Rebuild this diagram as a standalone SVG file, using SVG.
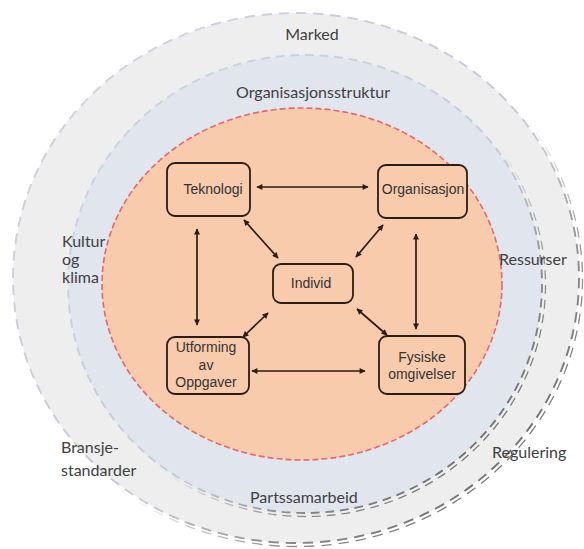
<svg xmlns="http://www.w3.org/2000/svg" width="584" height="549" viewBox="0 0 584 549">
  <defs>
    <linearGradient id="ringStroke" x1="0" y1="0" x2="1" y2="1">
      <stop offset="0" stop-color="#cfd4df"/>
      <stop offset="0.6" stop-color="#c3c8d4"/>
      <stop offset="0.74" stop-color="#8a8a8a"/>
      <stop offset="1" stop-color="#555555"/>
    </linearGradient>
    <linearGradient id="ringShadow" x1="0" y1="0" x2="1" y2="1">
      <stop offset="0" stop-color="#9a9a9a" stop-opacity="0"/>
      <stop offset="0.55" stop-color="#9a9a9a" stop-opacity="0"/>
      <stop offset="0.72" stop-color="#8a8a8a" stop-opacity="0.9"/>
      <stop offset="1" stop-color="#555555" stop-opacity="1"/>
    </linearGradient>
    <marker id="head" viewBox="0 0 10 10" refX="9" refY="5" markerWidth="7" markerHeight="6" markerUnits="userSpaceOnUse" orient="auto-start-reverse">
      <path d="M0,0 L10,5 L0,10 z" fill="#2b1d16"/>
    </marker>
    <style>
      .ring-line { fill: none; stroke: url(#ringStroke); stroke-width: 1.9; stroke-dasharray: 6 4; }
      .ring-shadow { fill: none; stroke: url(#ringShadow); stroke-width: 1.3; stroke-dasharray: 6 4; }
      .core { fill: #f8cbad; stroke: #e2686b; stroke-width: 1.6; stroke-dasharray: 6 3; }
      .box { fill: #f8cbad; stroke: #2b1d16; stroke-width: 1.8; }
      .box-text { font-family: "Liberation Sans", Arial, sans-serif; font-size: 14px; fill: #333333; text-anchor: middle; }
      .ring-text { font-family: "Lato", "Liberation Sans", sans-serif; font-size: 16px; fill: #404040; }
      .link { stroke: #2b1d16; stroke-width: 1.7; fill: none; marker-start: url(#head); marker-end: url(#head); }
    </style>
  </defs>

  <!-- outer ring: market / regulation -->
  <g id="ring-outer">
    <ellipse cx="296" cy="278" rx="283" ry="265" fill="#eeeeee"/>
    <ellipse class="ring-line" cx="296" cy="278" rx="283" ry="265" pathLength="1000"/>
    <ellipse class="ring-shadow" cx="297" cy="279" rx="285.5" ry="267.5" pathLength="1000"/>
  </g>

  <!-- middle ring: organisational structure -->
  <g id="ring-middle">
    <ellipse cx="305" cy="284" rx="237" ry="229" fill="#e1e5ee"/>
    <ellipse class="ring-line" cx="305" cy="284" rx="237" ry="229" pathLength="1000"/>
    <ellipse class="ring-shadow" cx="306" cy="285" rx="239.5" ry="231.5" pathLength="1000"/>
  </g>

  <!-- inner core -->
  <g id="core">
    <ellipse class="core" cx="302" cy="284" rx="200" ry="176"/>
  </g>

  <!-- ring labels -->
  <g id="labels">
    <text class="ring-text" x="312" y="40" text-anchor="middle">Marked</text>
    <text class="ring-text" x="313" y="98" text-anchor="middle">Organisasjonsstruktur</text>
    <text class="ring-text" x="62" y="247">Kultur</text>
    <text class="ring-text" x="62" y="265">og</text>
    <text class="ring-text" x="62" y="283">klima</text>
    <text class="ring-text" x="499" y="265">Ressurser</text>
    <text class="ring-text" x="61" y="453">Bransje-</text>
    <text class="ring-text" x="61" y="476">standarder</text>
    <text class="ring-text" x="492" y="458">Regulering</text>
    <text class="ring-text" x="250" y="503">Partssamarbeid</text>
  </g>

  <!-- connectors -->
  <g id="connectors">
    <line class="link" x1="257" y1="187" x2="368" y2="187"/>
    <line class="link" x1="244" y1="220" x2="278" y2="258"/>
    <line class="link" x1="383" y1="225" x2="356" y2="257"/>
    <line class="link" x1="197" y1="229" x2="197" y2="325"/>
    <line class="link" x1="416" y1="234" x2="416" y2="329"/>
    <line class="link" x1="243" y1="337" x2="268" y2="313"/>
    <line class="link" x1="387" y1="335" x2="357" y2="309"/>
    <line class="link" x1="252" y1="371" x2="365" y2="371"/>
  </g>

  <g id="teknologi">
    <rect class="box" x="167" y="163" width="83" height="53" rx="8"/>
    <text class="box-text" x="213" y="194">Teknologi</text>
  </g>

  <g id="organisasjon">
    <rect class="box" x="378" y="165" width="89" height="53" rx="8"/>
    <text class="box-text" x="423" y="194">Organisasjon</text>
  </g>

  <g id="individ">
    <rect class="box" x="273" y="264" width="80" height="39" rx="8"/>
    <text class="box-text" x="311" y="288">Individ</text>
  </g>

  <g id="utforming">
    <rect class="box" x="167" y="337" width="82" height="57" rx="8"/>
    <text class="box-text" x="206" y="352">Utforming</text>
    <text class="box-text" x="206" y="370">av</text>
    <text class="box-text" x="206" y="387">Oppgaver</text>
  </g>

  <g id="fysiske">
    <rect class="box" x="379" y="336" width="86" height="58" rx="8"/>
    <text class="box-text" x="422" y="362">Fysiske</text>
    <text class="box-text" x="422" y="379">omgivelser</text>
  </g>
</svg>
